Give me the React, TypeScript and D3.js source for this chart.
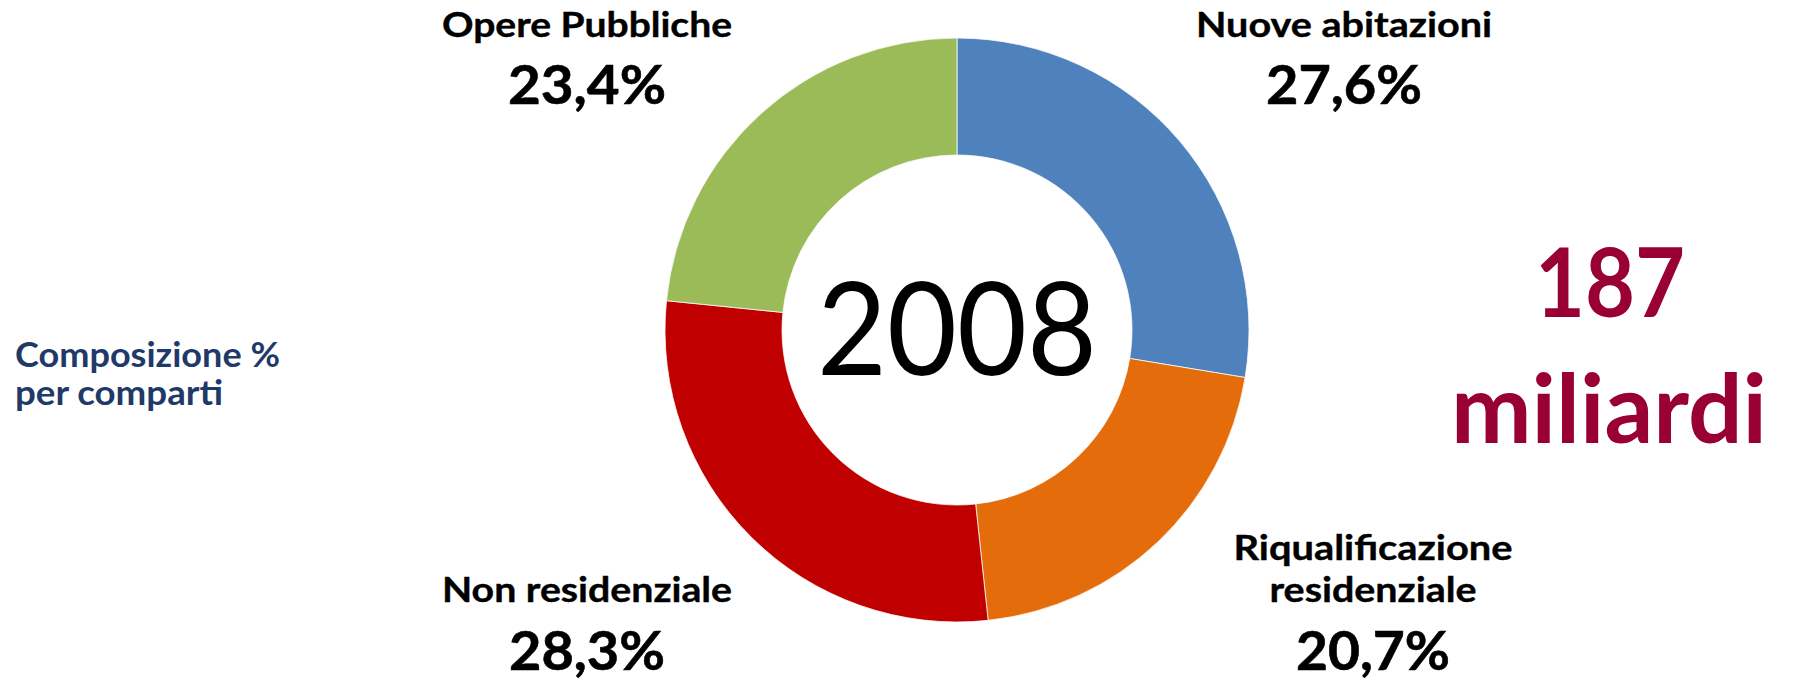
import * as d3 from 'd3';
import React from 'react';

// Composizione % per comparti, 2008
const categories = ['Nuove abitazioni', 'Riqualificazione residenziale', 'Non residenziale', 'Opere Pubbliche'];
const shares = [27.6, 20.7, 28.3, 23.4];
const sliceColors = ['#4F81BD', '#E46C0A', '#C00000', '#9BBB59'];
const year = '2008';
const totalValue = '187';
const totalUnit = 'miliardi';
const subtitleLines = ['Composizione %', 'per comparti'];

const W = 1793;
const H = 683;
const cx = 957;
const cy = 330;
const outerR = 292;
const innerR = 175;

const fmtPct = (v: number) => d3.format('.1f')(v).replace('.', ',') + '%';

// label layout per slice: name lines (baselines) + percent baseline, with target widths
const labelLayout = [
  { x: 1344, lines: [{ y: 37, w: 296 }], pct: { y: 104, w: 156 } },
  { x: 1373, lines: [{ y: 560, w: 279 }, { y: 602, w: 207 }], pct: { y: 670, w: 154 } },
  { x: 587, lines: [{ y: 602, w: 290 }], pct: { y: 670, w: 156 } },
  { x: 587, lines: [{ y: 37, w: 290 }], pct: { y: 104, w: 158 } },
];

const splitName = (name: string, n: number) => {
  if (n === 1) return [name];
  const i = name.indexOf(' ');
  return [name.slice(0, i), name.slice(i + 1)];
};

const App = () => {
  const pie = d3.pie<number>().sort(null).value(d => d).startAngle(0).endAngle(2 * Math.PI);
  const arc = d3.arc<d3.PieArcDatum<number>>().innerRadius(innerR).outerRadius(outerR);
  const arcs = pie(shares);

  const font = "Lato, 'Open Sans', sans-serif";

  return (
    <svg
      width={W}
      height={H}
      viewBox={`0 0 ${W} ${H}`}
      style={{ position: 'absolute', left: 0, top: 0, display: 'block', background: '#fff' }}
    >
      <g transform={`translate(${cx},${cy})`}>
        {arcs.map((a, i) => (
          <path key={i} d={arc(a) || ''} fill={sliceColors[i]} stroke="#fff" strokeWidth={0.75} />
        ))}
        <text
          x={0}
          y={45}
          textAnchor="middle"
          fontFamily={font}
          fontSize={129}
          fill="#000"
          textLength={280}
          lengthAdjust="spacingAndGlyphs"
        >
          {year}
        </text>
      </g>

      {categories.map((name, i) => {
        const lay = labelLayout[i];
        const parts = splitName(name, lay.lines.length);
        return (
          <g key={name} fontFamily={font} fontWeight={700} fill="#000" textAnchor="middle">
            {parts.map((p, j) => (
              <text
                key={j}
                x={lay.x}
                y={lay.lines[j].y}
                fontSize={35}
                stroke="#000"
                strokeWidth={0.4}
                textLength={lay.lines[j].w}
                lengthAdjust="spacingAndGlyphs"
              >
                {p}
              </text>
            ))}
            <text
              x={lay.x}
              y={lay.pct.y}
              fontSize={53}
              stroke="#000"
              strokeWidth={0.6}
              textLength={lay.pct.w}
              lengthAdjust="spacingAndGlyphs"
            >
              {fmtPct(shares[i])}
            </text>
          </g>
        );
      })}

      <g fontFamily={font} fontWeight={700} fill="#1F3A68">
        <text x={15} y={367} fontSize={34} textLength={265} lengthAdjust="spacingAndGlyphs">
          {subtitleLines[0]}
        </text>
        <text x={15} y={405} fontSize={34} textLength={208} lengthAdjust="spacingAndGlyphs">
          {subtitleLines[1]}
        </text>
      </g>

      <g fontFamily={font} fontWeight={700} fill="#990033" textAnchor="middle">
        <text x={1610} y={317} fontSize={96} textLength={150} lengthAdjust="spacingAndGlyphs">
          {totalValue}
        </text>
        <text x={1609} y={443} fontSize={96} textLength={316} lengthAdjust="spacingAndGlyphs">
          {totalUnit}
        </text>
      </g>
    </svg>
  );
};

export default App;
